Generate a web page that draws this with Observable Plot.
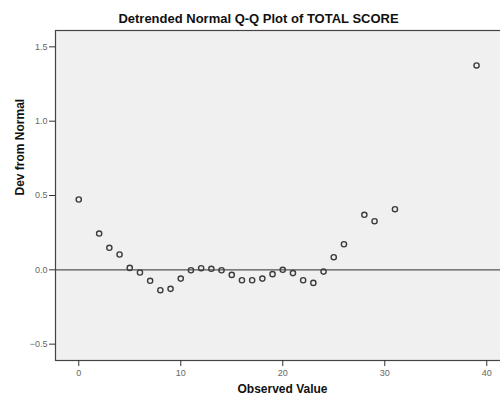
<!DOCTYPE html>
<html>
<head>
<meta charset="utf-8">
<script src="https://cdn.jsdelivr.net/npm/d3@7"></script>
<script src="https://cdn.jsdelivr.net/npm/@observablehq/plot@0.6"></script>
<style>
  html, body { margin: 0; padding: 0; background: #fff; overflow: hidden; width: 500px; height: 401px; }
  #wrap { position: relative; width: 500px; height: 401px; overflow: hidden; }
  #title { position: absolute; left: 258.5px; top: 9px; transform: translateX(-50%); white-space: nowrap;
           font-family: "Liberation Sans", Arial, sans-serif; font-weight: bold; font-size: 13px; line-height: 20px; color: #111; }
  #chart { position: absolute; left: 0; top: 29px; width: 510px; }
  #chart svg { max-width: none !important; }
</style>
</head>
<body>
<div id="wrap">
  <div id="title">Detrended Normal Q-Q Plot of TOTAL SCORE</div>
  <div id="chart"></div>
</div>
<script>
const observed  = [0, 2, 3, 4, 5, 6, 7, 8, 9, 10, 11, 12, 13, 14, 15, 16, 17, 18, 19, 20, 21, 22, 23, 24, 25, 26, 28, 29, 31, 39];
const deviation = [0.473, 0.244, 0.148, 0.103, 0.013, -0.018, -0.074, -0.137, -0.128, -0.059, -0.003, 0.011, 0.007, -0.003, -0.034, -0.07, -0.07, -0.059, -0.029, 0.0, -0.022, -0.07, -0.088, -0.012, 0.085, 0.172, 0.37, 0.327, 0.408, 1.375];
const xTicks = [0, 10, 20, 30, 40];
const yTicks = [-0.5, 0.0, 0.5, 1.0, 1.5];
const xLabel = "Observed Value";
const yLabel = "Dev from Normal";

const data = observed.map((x, i) => ({x, y: deviation[i]}));

const chart = Plot.plot({
  width: 510,
  height: 372,
  marginTop: 1,
  marginBottom: 41,
  marginLeft: 55,
  marginRight: 1,
  style: {fontFamily: "'Liberation Sans', Arial, sans-serif", fontSize: "9px", background: "transparent", maxWidth: "none"},
  x: {domain: [-2.28, 42.23]},
  y: {domain: [-0.61, 1.61]},
  marks: [
    Plot.frame({fill: "#f0f0f0"}),
    Plot.ruleY([0], {stroke: "#555", strokeWidth: 1.3}),
    Plot.dot(data, {x: "x", y: "y", r: 2.6, stroke: "#3c3c3c", strokeWidth: 1.4, fill: "none"}),
    Plot.frame({stroke: "#444", strokeWidth: 1.2}),
    Plot.axisX({ticks: xTicks, tickSize: 6, tickPadding: 3, stroke: "#333", fill: "#666", label: null, fontSize: 9}),
    Plot.axisY({ticks: yTicks, tickSize: 6, tickPadding: 2, tickFormat: d3.format(".1f"), stroke: "#333", fill: "#666", label: null, fontSize: 9}),
    Plot.text([xLabel], {frameAnchor: "bottom", dy: 32, text: d => d, fontSize: 12, fontWeight: "bold", fill: "#111"}),
    Plot.text([yLabel], {frameAnchor: "left", dx: -35, rotate: -90, text: d => d, fontSize: 12, fontWeight: "bold", fill: "#111"})
  ]
});
document.getElementById("chart").appendChild(chart);
</script>
</body>
</html>
